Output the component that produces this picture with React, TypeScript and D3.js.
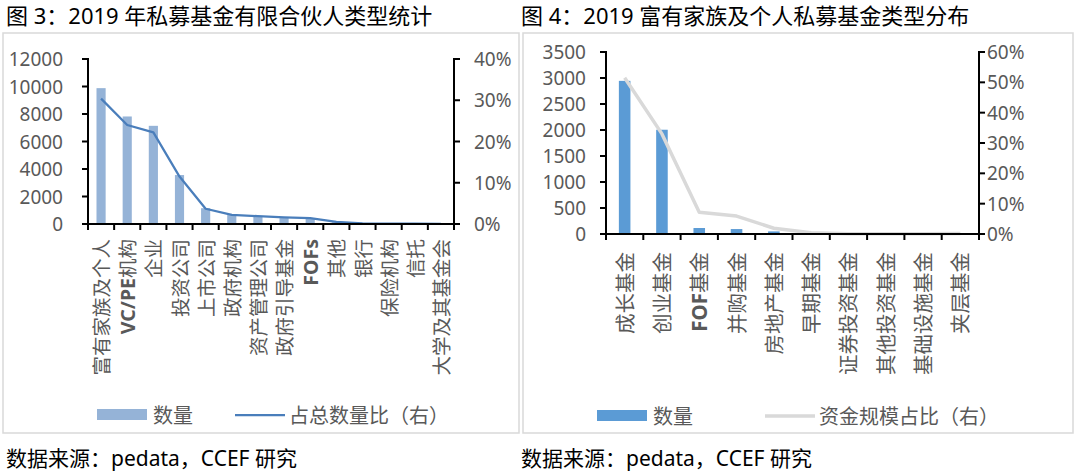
import React from 'react';
import * as d3 from 'd3';

// 图3 数据
const leftCategories = ['富有家族及个人', 'VC/PE机构', '企业', '投资公司', '上市公司', '政府机构', '资产管理公司', '政府引导基金', 'FOFs', '其他', '银行', '保险机构', '信托', '大学及其基金会'];
const leftCounts = [9880, 7820, 7140, 3560, 1150, 650, 530, 430, 380, 130, 40, 30, 20, 10];
const leftShare = [0.304, 0.24, 0.222, 0.115, 0.037, 0.022, 0.019, 0.016, 0.014, 0.005, 0.0015, 0.001, 0.001, 0.0005];
const leftTicks = [0, 2000, 4000, 6000, 8000, 10000, 12000];
const leftPctTicks = [0, 0.1, 0.2, 0.3, 0.4];

// 图4 数据
const rightCategories = ['成长基金', '创业基金', 'FOF基金', '并购基金', '房地产基金', '早期基金', '证券投资基金', '其他投资基金', '基础设施基金', '夹层基金'];
const rightCounts = [2945, 2005, 115, 95, 50, 12, 3, 2, 2, 1];
const rightShare = [0.515, 0.33, 0.072, 0.059, 0.019, 0.004, 0.001, 0.001, 0.001, 0.002];
const rightTicks = [0, 500, 1000, 1500, 2000, 2500, 3000, 3500];
const rightPctTicks = [0, 0.1, 0.2, 0.3, 0.4, 0.5, 0.6];

const FONT = '"Noto Sans", "Noto Sans CJK SC", sans-serif';
const GRAY = '#595959';

// 拉丁字符加粗（Excel 里的样子）
const renderLabel = (s: string) => {
  const parts = s.match(/[A-Za-z/]+|[^A-Za-z/]+/g) || [s];
  return parts.map((p, i) => (
    <tspan key={i} fontWeight={/[A-Za-z]/.test(p) ? 'bold' : 'normal'}>{p}</tspan>
  ));
};

interface PanelProps {
  categories: string[];
  counts: number[];
  share: number[];
  ticks: number[];
  pctTicks: number[];
  box: { x: number; y: number; w: number; h: number };
  plot: { left: number; right: number; top: number; bottom: number };
  barColor: string;
  barRatio: number;
  lineColor: string;
  lineWidth: number;
  leftLabelX: number;
  rightLabelX: number;
  labelTop: number;
  labelSize: number;
  legend: { rectX: number; lineX: number; y: number; lineText: string };
  title: string;
  titleX: number;
}

const Panel: React.FC<PanelProps> = (p) => {
  const x = d3.scaleBand().domain(p.categories).range([p.plot.left, p.plot.right]).padding(0);
  const yL = d3.scaleLinear().domain([0, p.ticks[p.ticks.length - 1]]).range([p.plot.bottom, p.plot.top]);
  const yR = d3.scaleLinear().domain([0, p.pctTicks[p.pctTicks.length - 1]]).range([p.plot.bottom, p.plot.top]);
  const bw = x.bandwidth() * p.barRatio;

  const line = d3.line<number>()
    .x((_, i) => (x(p.categories[i]) || 0) + x.bandwidth() / 2)
    .y(d => yR(d));

  const boundaries = d3.range(p.categories.length + 1).map(i => p.plot.left + i * x.bandwidth());

  return (
    <g fontFamily={FONT}>
      <text x={p.titleX} y={24} fontSize={22} fill="#000">{p.title}</text>
      <rect x={p.box.x} y={p.box.y} width={p.box.w} height={p.box.h} fill="#fff" stroke="#d9d9d9" strokeWidth={1.5} />

      {/* 柱 */}
      {p.counts.map((v, i) => (
        <rect key={i}
          x={(x(p.categories[i]) || 0) + (x.bandwidth() - bw) / 2}
          y={yL(v)}
          width={bw}
          height={yL(0) - yL(v)}
          fill={p.barColor} />
      ))}

      {/* 折线 */}
      <path d={line(p.share) || ''} fill="none" stroke={p.lineColor} strokeWidth={p.lineWidth} strokeLinejoin="round" />

      {/* 轴 */}
      <g stroke="#000" strokeWidth={2}>
        <line x1={p.plot.left} x2={p.plot.left} y1={p.plot.top - 1} y2={p.plot.bottom} />
        <line x1={p.plot.right} x2={p.plot.right} y1={p.plot.top - 1} y2={p.plot.bottom} />
        <line x1={p.plot.left - 6} x2={p.plot.right + 6} y1={p.plot.bottom} y2={p.plot.bottom} />
        {p.ticks.map(t => (
          <line key={'l' + t} x1={p.plot.left - 6} x2={p.plot.left} y1={yL(t)} y2={yL(t)} />
        ))}
        {p.pctTicks.map(t => (
          <line key={'r' + t} x1={p.plot.right} x2={p.plot.right + 6} y1={yR(t)} y2={yR(t)} />
        ))}
        {boundaries.map((b, i) => (
          <line key={'x' + i} x1={b} x2={b} y1={p.plot.bottom} y2={p.plot.bottom + 6} />
        ))}
      </g>

      <g fontSize={19} fill={GRAY}>
        {p.ticks.map(t => (
          <text key={'lt' + t} x={p.leftLabelX} y={yL(t)} textAnchor="end" dominantBaseline="central">{t}</text>
        ))}
        {p.pctTicks.map(t => (
          <text key={'rt' + t} x={p.rightLabelX} y={yR(t)} dominantBaseline="central">{d3.format('.0%')(t)}</text>
        ))}
      </g>

      <g fontSize={p.labelSize} fill={GRAY}>
        {p.categories.map(c => {
          const cx = (x(c) || 0) + x.bandwidth() / 2;
          return (
            <text key={c} transform={`translate(${cx},${p.labelTop}) rotate(-90)`} textAnchor="end" dominantBaseline="central">
              {renderLabel(c)}
            </text>
          );
        })}
      </g>

      {/* 图例 */}
      <g fontSize={20} fill={GRAY}>
        <rect x={p.legend.rectX} y={p.legend.y - 6} width={50} height={11} fill={p.barColor} />
        <text x={p.legend.rectX + 56} y={p.legend.y} dominantBaseline="central">数量</text>
        <line x1={p.legend.lineX} x2={p.legend.lineX + 50} y1={p.legend.y} y2={p.legend.y} stroke={p.lineColor} strokeWidth={p.lineWidth} />
        <text x={p.legend.lineX + 54} y={p.legend.y} dominantBaseline="central">{p.legend.lineText}</text>
      </g>

      <text x={p.titleX} y={466} fontSize={21} fill="#000">数据来源：pedata，CCEF 研究</text>
    </g>
  );
};

export default function App() {
  return (
    <svg width={1080} height={474} style={{ display: 'block', position: 'absolute', left: 0, top: 0, background: '#fff' }}>
      <rect width={1080} height={474} fill="#fff" />
      <Panel
        categories={leftCategories}
        counts={leftCounts}
        share={leftShare}
        ticks={leftTicks}
        pctTicks={leftPctTicks}
        box={{ x: 3, y: 33, w: 516, h: 400 }}
        plot={{ left: 88, right: 454, top: 59, bottom: 224 }}
        barColor="#95b3d7"
        barRatio={0.35}
        lineColor="#4a7ebb"
        lineWidth={2.25}
        leftLabelX={63}
        rightLabelX={474}
        labelTop={239}
        labelSize={19.5}
        legend={{ rectX: 97, lineX: 235, y: 415, lineText: '占总数量比（右）' }}
        title="图 3：2019 年私募基金有限合伙人类型统计"
        titleX={6}
      />
      <Panel
        categories={rightCategories}
        counts={rightCounts}
        share={rightShare}
        ticks={rightTicks}
        pctTicks={rightPctTicks}
        box={{ x: 523, y: 33, w: 550, h: 400 }}
        plot={{ left: 606, right: 979, top: 52, bottom: 234 }}
        barColor="#5b9bd5"
        barRatio={0.31}
        lineColor="#d9d9d9"
        lineWidth={3.5}
        leftLabelX={586}
        rightLabelX={987}
        labelTop={252}
        labelSize={20.5}
        legend={{ rectX: 597, lineX: 765, y: 416, lineText: '资金规模占比（右）' }}
        title="图 4：2019 富有家族及个人私募基金类型分布"
        titleX={521}
      />
    </svg>
  );
}
